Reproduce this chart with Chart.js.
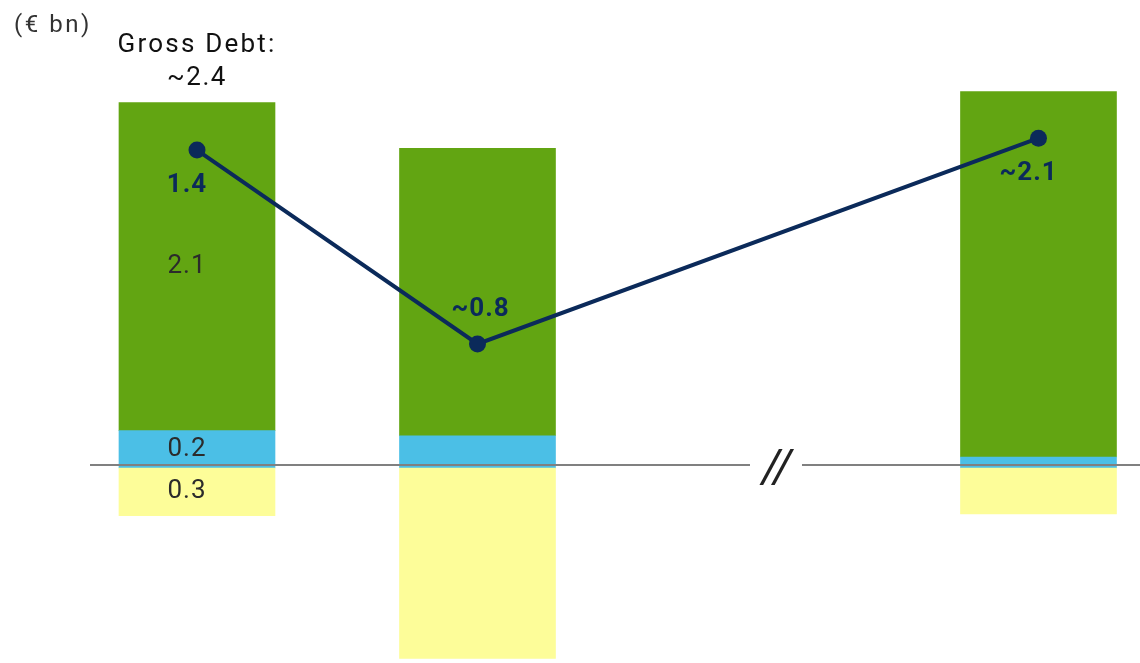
<!DOCTYPE html>
<html><head><meta charset="utf-8">
<script src="https://cdn.jsdelivr.net/npm/chart.js@4.4.1/dist/chart.umd.min.js"></script>
<style>html,body{margin:0;padding:0;background:#fff;overflow:hidden}#wrap{width:1140px;height:663px;position:relative}</style>
</head><body><div id="wrap"><canvas id="c" width="1140" height="663"></canvas></div>
<script>
// ---- data ----
const categories = ['Period 1', 'Period 2', 'Period 3'];
const slots = [0, 1, 3];               // slot 2 is the axis break
const unitNote = '(€ bn)';
const grossDebtLabel = ['Gross Debt:', '~2.4'];
const greenValues = [1.93, 1.69, 2.15];
const blueValues = [0.22, 0.19, 0.065];
const yellowValues = [-0.28, -1.12, -0.27];
const lineValues = [1.87, 0.73, 1.94];
const lineLabels = ['1.4', '~0.8', '~2.1'];
const greenLabels = ['2.1', '', ''];
const blueLabels = ['0.2', '', ''];
const yellowLabels = ['0.3', '', ''];
const breakMark = '//';

const FONT = 'Roboto, "Liberation Sans", Arial, sans-serif';
const NAVY = '#0b2a5a';
const pts = arr => arr.map((v, i) => ({x: slots[i], y: v}));

const labelPlugin = {
  id: 'labels',
  afterDatasetsDraw(chart) {
    const ctx = chart.ctx;
    const y = chart.scales.y, x = chart.scales.x;
    const y0 = y.getPixelForValue(0);
    ctx.save();
    // baseline with break
    const breakX = (x.getPixelForValue(slots[1]) + x.getPixelForValue(slots[2])) / 2 + 18;
    ctx.strokeStyle = '#808080';
    ctx.lineWidth = 2;
    ctx.beginPath();
    ctx.moveTo(90, y0 - 3); ctx.lineTo(breakX - 26, y0 - 3);
    ctx.moveTo(breakX + 26, y0 - 3); ctx.lineTo(1140, y0 - 3);
    ctx.stroke();
    ctx.fillStyle = '#222';
    ctx.textAlign = 'center';
    ctx.textBaseline = 'middle';
    ctx.font = 'italic 46px ' + FONT;
    ctx.letterSpacing = '-2px';
    ctx.fillText(breakMark, breakX, y0 + 2);

    // bar segment labels
    const segLabels = [greenLabels, blueLabels, yellowLabels];
    const segIdx = [2, 1, 0];
    ctx.font = '26px ' + FONT;
    ctx.letterSpacing = '1px';
    ctx.fillStyle = '#2b2b2b';
    segLabels.forEach((labels, k) => {
      const meta = chart.getDatasetMeta(segIdx[k]);
      meta.data.forEach((el, i) => {
        if (!labels[i]) return;
        const c = el.getCenterPoint();
        ctx.fillText(labels[i], c.x - 10, c.y);
      });
    });

    // line labels
    const lmeta = chart.getDatasetMeta(3);
    ctx.font = 'bold 26px ' + FONT;
    ctx.fillStyle = NAVY;
    lmeta.data.forEach((p, i) => {
      const above = i === 1;
      ctx.fillText(lineLabels[i], p.x + (above ? 3 : -10), p.y + (above ? -34 : 35));
    });

    // gross debt annotation above first bar
    const g = chart.getDatasetMeta(2).data[0];
    ctx.font = '26px ' + FONT;
    ctx.letterSpacing = '2.2px';
    ctx.fillStyle = '#111';
    ctx.fillText(grossDebtLabel[0], g.x, g.y - 57);
    ctx.letterSpacing = '1.5px';
    ctx.fillText(grossDebtLabel[1], g.x, g.y - 24);

    // unit note
    ctx.textAlign = 'left';
    ctx.font = '24px ' + FONT;
    ctx.letterSpacing = '2.5px';
    ctx.fillStyle = '#333';
    ctx.fillText(unitNote, 14, 26);
    ctx.restore();
  }
};

new Chart(document.getElementById('c'), {
  data: {
    datasets: [
      {type: 'bar', label: 'Yellow', data: pts(yellowValues), backgroundColor: '#fdfd99', stack: 's', order: 2, barThickness: 156},
      {type: 'bar', label: 'Blue', data: pts(blueValues), backgroundColor: '#4bbfe6', stack: 's', order: 2, barThickness: 156},
      {type: 'bar', label: 'Green', data: pts(greenValues), backgroundColor: '#62a512', stack: 's', order: 2, barThickness: 156},
      {type: 'line', label: 'Line', data: pts(lineValues), borderColor: NAVY, backgroundColor: NAVY,
       borderWidth: 4, pointRadius: 8.5, pointBorderWidth: 0, pointHoverRadius: 8.5, stack: 'line', order: 0, tension: 0}
    ]
  },
  options: {
    responsive: false,
    animation: false,
    events: [],
    layout: {padding: 0, autoPadding: false},
    plugins: {legend: {display: false}, tooltip: {enabled: false}},
    scales: {
      x: {type: 'linear', display: false, offset: false, min: -0.7023, max: 3.3619, stacked: true},
      y: {display: false, offset: false, min: -1.147, max: 2.753, stacked: true}
    }
  },
  plugins: [labelPlugin]
});
</script></body></html>
